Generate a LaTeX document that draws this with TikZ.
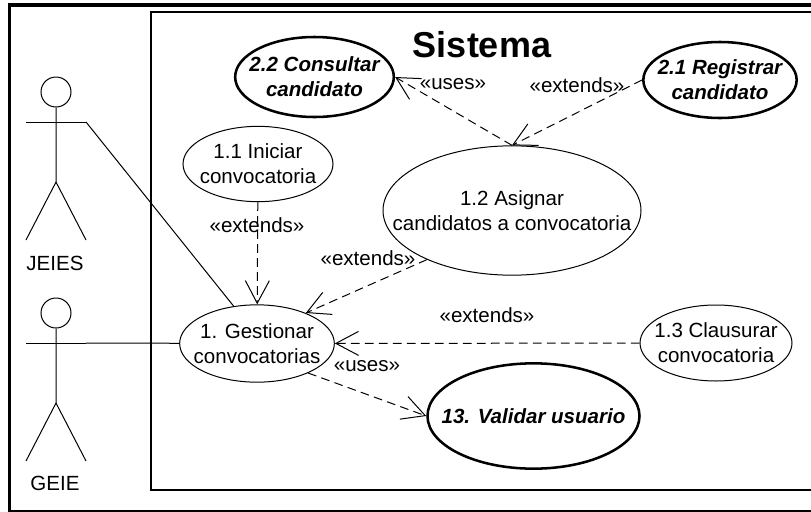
\documentclass[tikz,border=0pt]{standalone}
\usepackage{fontspec}
\setmainfont{Liberation Sans}
\usetikzlibrary{shapes.geometric,arrows.meta}
\tikzset{>={Straight Barb[length=17pt,width=18pt]}}

\begin{document}
\begin{tikzpicture}[
    x=0.75pt, y=-0.75pt,
    line width=0.75pt,
    every node/.style={font=\fontsize{15.4}{18.75}\selectfont, align=center},
    usecase/.style={draw, ellipse, inner sep=-30pt},
    keycase/.style={usecase, line width=1.9pt, font=\fontsize{15.4}{18.75}\selectfont\bfseries\itshape},
    rel/.style={->, dash pattern=on 6.5pt off 4pt}
]
    \useasboundingbox (0,0) rectangle (811,511);

    % Frames
    \draw[line width=2.8pt] (9.5,5) rectangle (815,512);
    \draw[line width=1.2pt] (151,12) rectangle (815,490);

    % Use cases
    \node (Sistema) at (482,45) {\fontsize{27}{30}\selectfont\bfseries Sistema};
    \node (Consultar) [keycase, minimum width=119pt, minimum height=60pt] at (314.5,77) {2.2 Consultar \\ candidato};
    \node (Registrar) [keycase, minimum width=115pt, minimum height=57pt] at (720,80) {2.1 Registrar \\ candidato};
    \node (Iniciar) [usecase, minimum width=112.5pt, minimum height=56.5pt] at (258,164) {1.1 Iniciar \\ convocatoria};
    \node (Asignar) [usecase, minimum width=193.5pt, minimum height=97pt] at (512,210.5) {1.2 Asignar \\ candidatos a convocatoria};
    \node (Gestionar) [usecase, minimum width=116pt, minimum height=58pt] at (257,343.5) {1. Gestionar \\ convocatorias};
    \node (Clausurar) [usecase, minimum width=114pt, minimum height=57pt] at (716,343) {1.3 Clausurar \\ convocatoria};
    \node (Validar) [keycase, minimum width=159pt, minimum height=79pt] at (533.5,416) {13. Validar usuario};

    % Actors
    \node (JeiesHead) [draw, circle, minimum size=22.5pt, inner sep=0pt] at (56,92) {};
    \node (GeieHead) [draw, circle, minimum size=22.5pt, inner sep=0pt] at (56,313) {};
    \node (Jeies) at (55,263) {JEIES};
    \node (Geie) at (55,483) {GEIE};
    \coordinate (JeiesHand) at (86,122);
    \coordinate (GeieHand) at (86,343);
    \draw (JeiesHead) -- (56,182) -- (26,240);
    \draw (56,182) -- (86,240);
    \draw (26,122) -- (JeiesHand);
    \draw (GeieHead) -- (56,403) -- (26,461);
    \draw (56,403) -- (86,461);
    \draw (26,343) -- (GeieHand);

    % Labels
    \node (UsesTop) at (453,84) {«uses»};
    \node (ExtendsTop) at (577,85) {«extends»};
    \node (ExtendsIni) at (257,225) {«extends»};
    \node (ExtendsAsi) at (368,258) {«extends»};
    \node (ExtendsCla) at (487,315) {«extends»};
    \node (UsesVal) at (367,366) {«uses»};

    % Arrows
    \draw (JeiesHand) -- (Gestionar.122);
    \draw (GeieHand) -- (Gestionar);
    \draw[rel] (Asignar.north) -- (Consultar.east);
    \draw[rel] (Registrar.west) -- (Asignar.north);
    \draw[rel] (Iniciar) -- (Gestionar);
    \draw[rel] (Asignar.210) -- (Gestionar.32);
    \draw[rel] (Clausurar) -- (Gestionar);
    \draw[rel] (Gestionar.-30) -- (Validar.west);
\end{tikzpicture}
\end{document}
